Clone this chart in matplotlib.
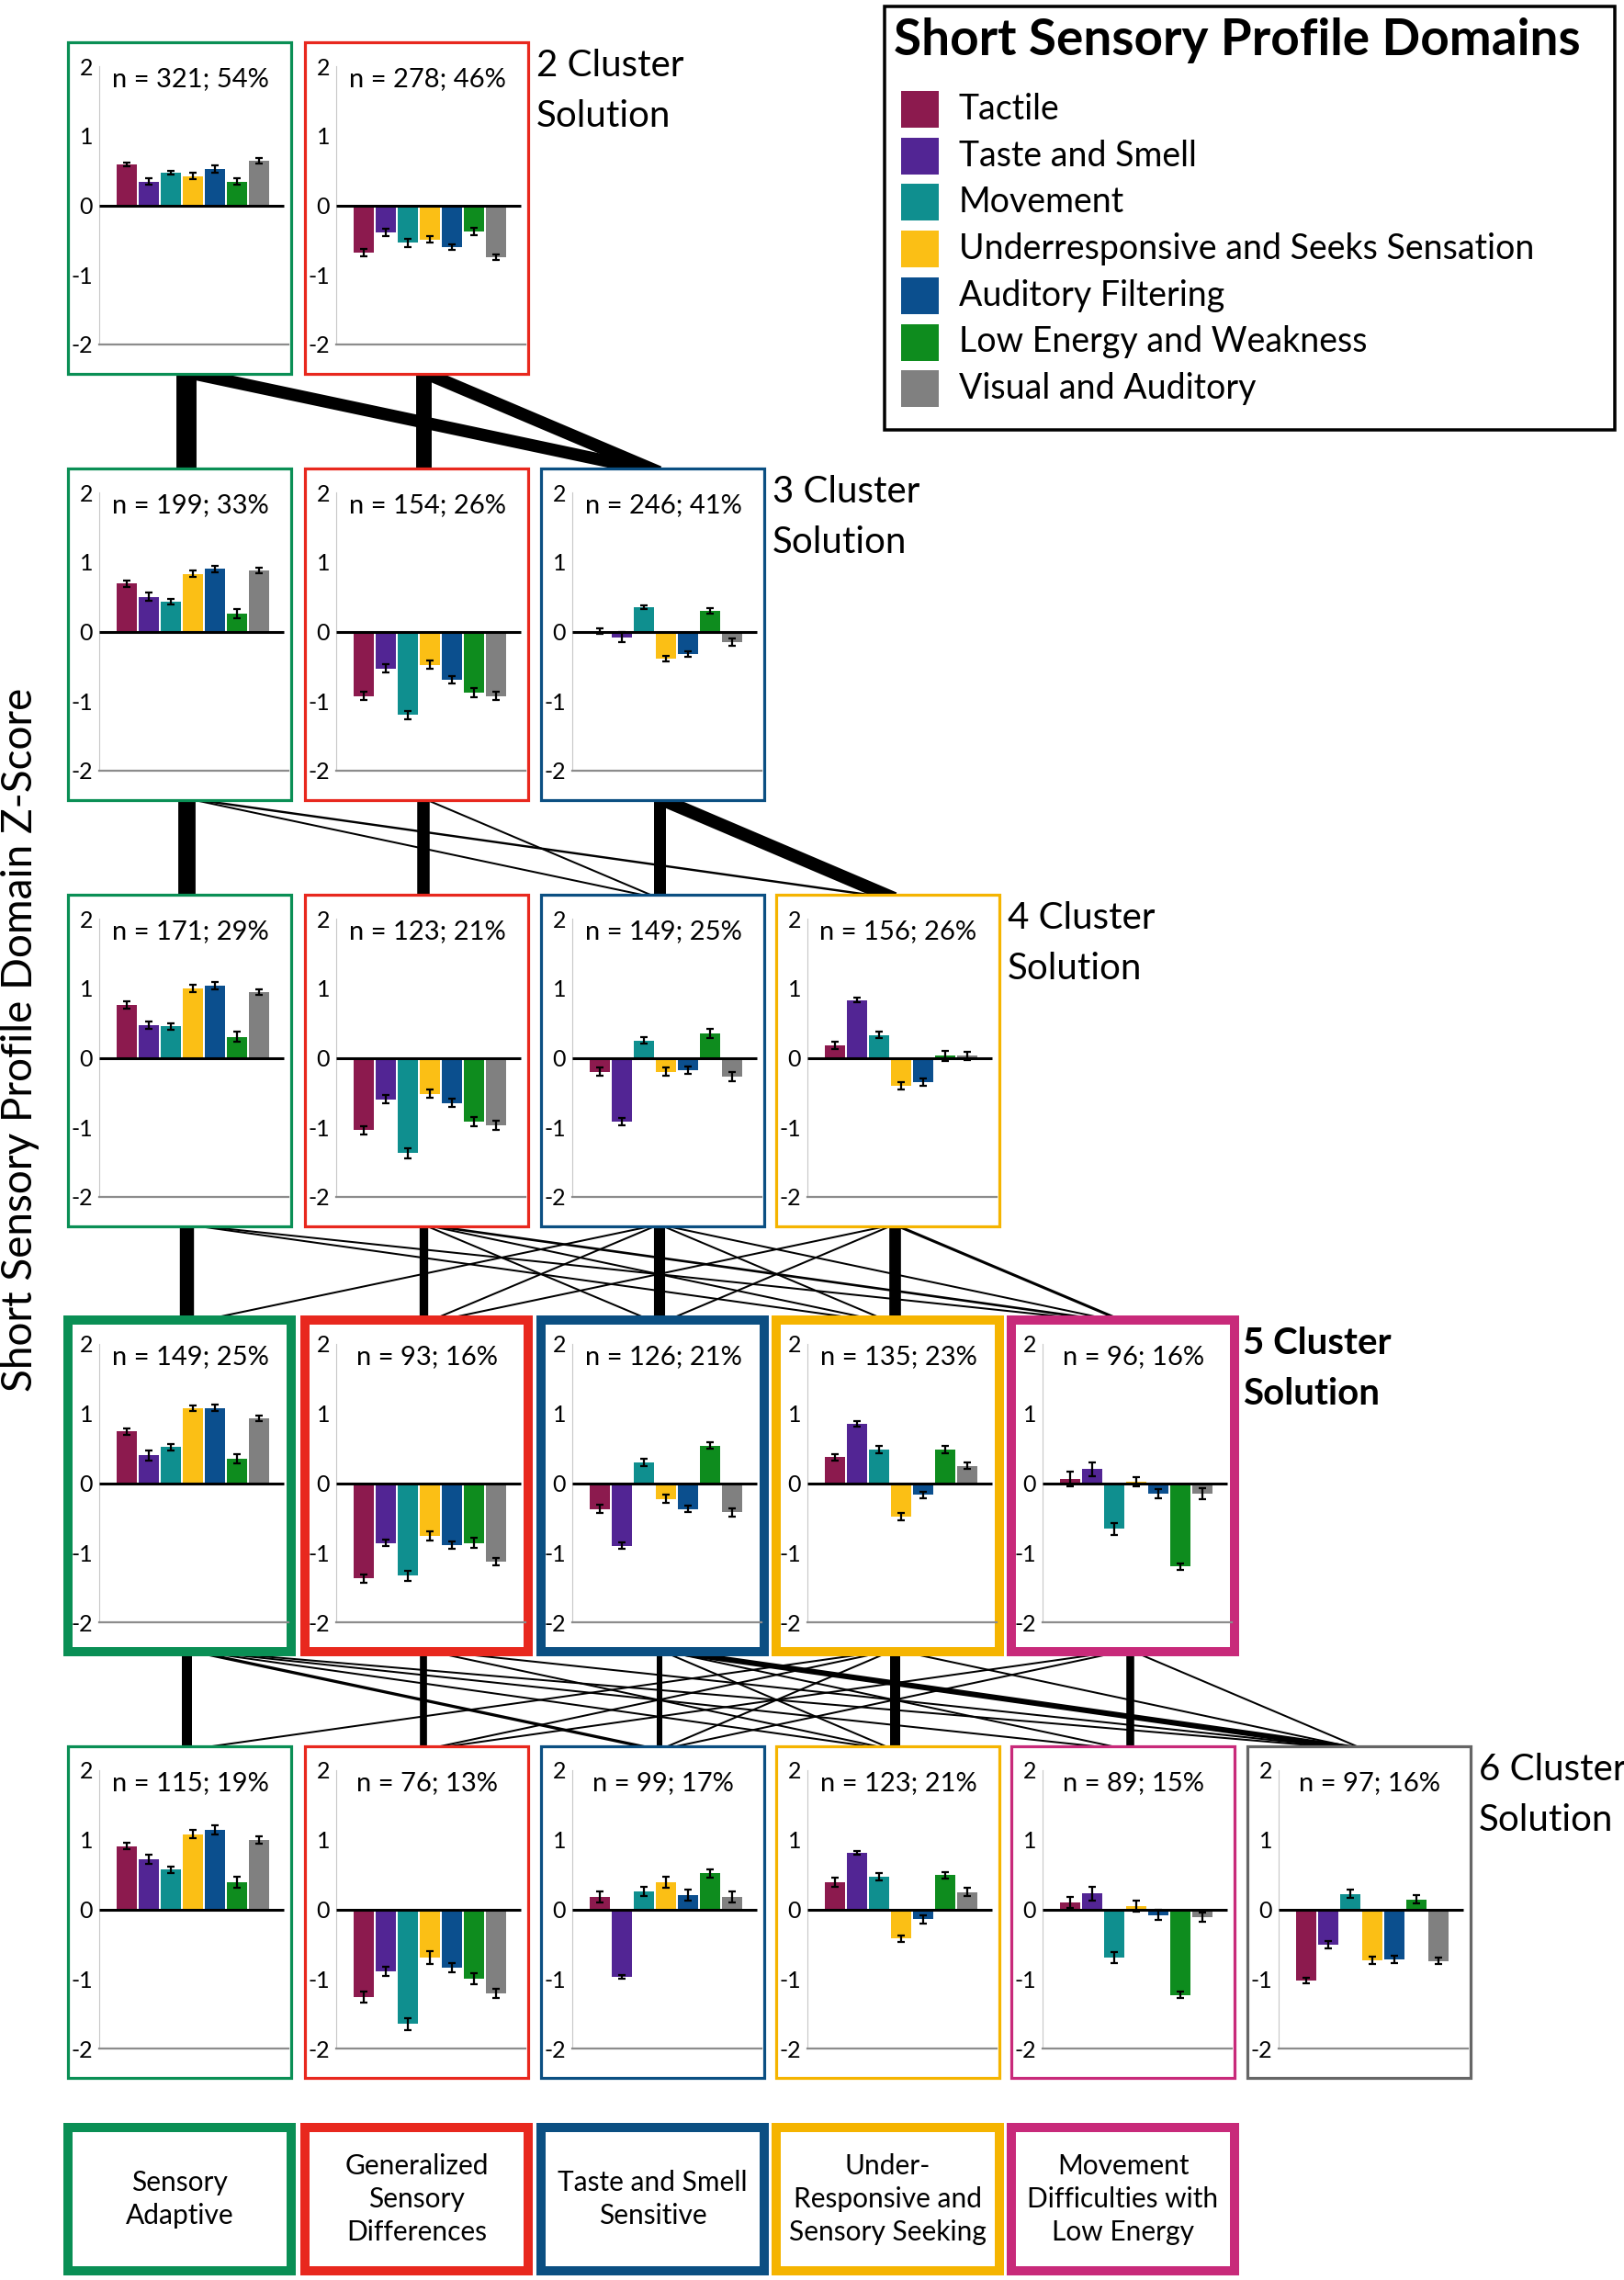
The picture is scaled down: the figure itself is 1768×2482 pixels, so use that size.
import matplotlib
matplotlib.use('Agg')
import matplotlib.pyplot as plt
from matplotlib.patches import Rectangle

plt.rcParams['font.family'] = ['Lato', 'DejaVu Sans']

# ---------------- data ----------------
domains = ["Tactile", "Taste and Smell", "Movement", "Underresponsive and Seeks Sensation",
           "Auditory Filtering", "Low Energy and Weakness", "Visual and Auditory"]
domain_colors = ["#8C1A4E", "#522594", "#0F8F8F", "#FBBF15", "#0B4F8E", "#0E8C1E", "#808080"]

frame_colors = ["#0A8F55", "#E8281E", "#0B4F82", "#F5B400", "#C82A7A", "#666666"]

# 2-cluster solution
c2_n = [321, 278]
c2_pct = [54, 46]
c2_means = [[0.59, 0.34, 0.47, 0.42, 0.52, 0.34, 0.64],
            [-0.68, -0.39, -0.54, -0.49, -0.60, -0.38, -0.75]]
c2_err = [[0.03, 0.045, 0.03, 0.05, 0.05, 0.045, 0.045],
          [0.05, 0.05, 0.06, 0.05, 0.04, 0.05, 0.04]]

# 3-cluster solution
c3_n = [199, 154, 246]
c3_pct = [33, 26, 41]
c3_means = [[0.69, 0.50, 0.43, 0.83, 0.90, 0.26, 0.88],
            [-0.93, -0.53, -1.20, -0.48, -0.69, -0.88, -0.93],
            [0.01, -0.08, 0.35, -0.39, -0.32, 0.30, -0.15]]
c3_err = [[0.045, 0.055, 0.045, 0.05, 0.045, 0.065, 0.04],
          [0.06, 0.06, 0.06, 0.06, 0.05, 0.07, 0.06],
          [0.04, 0.07, 0.03, 0.04, 0.04, 0.04, 0.05]]

# 4-cluster solution
c4_n = [171, 123, 149, 156]
c4_pct = [29, 21, 25, 26]
c4_means = [[0.76, 0.47, 0.45, 1.00, 1.04, 0.30, 0.95],
            [-1.04, -0.60, -1.37, -0.52, -0.65, -0.92, -0.97],
            [-0.20, -0.92, 0.25, -0.20, -0.18, 0.35, -0.27],
            [0.18, 0.83, 0.33, -0.40, -0.35, 0.03, 0.03]]
c4_err = [[0.05, 0.05, 0.05, 0.05, 0.05, 0.07, 0.04],
          [0.06, 0.06, 0.07, 0.06, 0.06, 0.07, 0.06],
          [0.06, 0.05, 0.05, 0.06, 0.05, 0.07, 0.07],
          [0.05, 0.03, 0.04, 0.05, 0.05, 0.07, 0.06]]

# 5-cluster solution
c5_n = [149, 93, 126, 135, 96]
c5_pct = [25, 16, 21, 23, 16]
c5_means = [[0.74, 0.40, 0.52, 1.07, 1.08, 0.35, 0.93],
            [-1.37, -0.86, -1.33, -0.76, -0.89, -0.86, -1.13],
            [-0.37, -0.90, 0.30, -0.23, -0.37, 0.54, -0.42],
            [0.37, 0.85, 0.48, -0.48, -0.17, 0.48, 0.25],
            [0.06, 0.20, -0.66, 0.02, -0.15, -1.20, -0.15]]
c5_err = [[0.05, 0.07, 0.045, 0.04, 0.05, 0.07, 0.04],
          [0.06, 0.05, 0.07, 0.07, 0.05, 0.07, 0.05],
          [0.06, 0.05, 0.05, 0.06, 0.05, 0.05, 0.06],
          [0.05, 0.04, 0.05, 0.05, 0.05, 0.05, 0.05],
          [0.10, 0.10, 0.08, 0.07, 0.07, 0.05, 0.08]]

# 6-cluster solution
c6_n = [115, 76, 99, 123, 89, 97]
c6_pct = [19, 13, 17, 21, 15, 16]
c6_means = [[0.91, 0.72, 0.57, 1.08, 1.14, 0.39, 1.00],
            [-1.26, -0.89, -1.65, -0.69, -0.84, -1.00, -1.21],
            [0.18, -0.97, 0.26, 0.39, 0.20, 0.52, 0.18],
            [0.39, 0.81, 0.47, -0.42, -0.14, 0.49, 0.25],
            [0.10, 0.23, -0.69, 0.05, -0.08, -1.23, -0.11],
            [-1.02, -0.51, 0.22, -0.73, -0.72, 0.14, -0.74]]
c6_err = [[0.05, 0.06, 0.05, 0.06, 0.07, 0.08, 0.05],
          [0.08, 0.07, 0.08, 0.09, 0.07, 0.08, 0.07],
          [0.08, 0.03, 0.07, 0.08, 0.08, 0.06, 0.08],
          [0.07, 0.03, 0.05, 0.05, 0.06, 0.05, 0.06],
          [0.08, 0.10, 0.08, 0.08, 0.07, 0.05, 0.07],
          [0.04, 0.05, 0.06, 0.05, 0.05, 0.06, 0.05]]

# transitions between successive solutions: (from cluster, to cluster, approx. n)
flow_2_3 = [(0, 0, 199), (0, 2, 122), (1, 1, 154), (1, 2, 124)]
flow_3_4 = [(0, 0, 171), (0, 2, 8), (0, 3, 22), (1, 1, 123), (1, 2, 12),
            (2, 2, 118), (2, 3, 128)]
flow_4_5 = [(0, 0, 140), (0, 3, 8), (0, 4, 16), (1, 1, 85), (1, 2, 8), (1, 3, 6),
            (1, 4, 24), (2, 0, 6), (2, 1, 5), (2, 2, 110), (2, 3, 10), (2, 4, 18),
            (3, 1, 5), (3, 2, 8), (3, 3, 115), (3, 4, 28)]
flow_5_6 = [(0, 0, 100), (0, 2, 30), (0, 3, 6), (0, 4, 5), (0, 5, 10),
            (1, 1, 70), (1, 3, 5), (1, 5, 14),
            (2, 2, 55), (2, 3, 8), (2, 4, 6), (2, 5, 55),
            (3, 0, 8), (3, 1, 4), (3, 2, 8), (3, 3, 100), (3, 5, 12),
            (4, 1, 4), (4, 2, 6), (4, 4, 78), (4, 5, 6)]

solution_titles = ["2 Cluster", "3 Cluster", "4 Cluster", "5 Cluster", "6 Cluster"]
profile_names = ["Sensory\nAdaptive", "Generalized\nSensory\nDifferences",
                 "Taste and Smell\nSensitive", "Under-\nResponsive and\nSensory Seeking",
                 "Movement\nDifficulties with\nLow Energy"]
legend_title = "Short Sensory Profile Domains"
y_label = "Short Sensory Profile Domain Z-Score"

# ---------------- layout (pixels) ----------------
W, H = 1768, 2482
DPI = 100
fig = plt.figure(figsize=(W / DPI, H / DPI), dpi=DPI)
bg = fig.add_axes([0, 0, 1, 1])
bg.set_xlim(0, W)
bg.set_ylim(H, 0)
bg.axis('off')

col_left = [74, 332, 589, 845, 1101, 1358]
PW, PH = 243, 361
row_top = [46, 510, 974, 1437, 1901]

rows = [(c2_n, c2_pct, c2_means, c2_err),
        (c3_n, c3_pct, c3_means, c3_err),
        (c4_n, c4_pct, c4_means, c4_err),
        (c5_n, c5_pct, c5_means, c5_err),
        (c6_n, c6_pct, c6_means, c6_err)]
flows = [flow_2_3, flow_3_4, flow_4_5, flow_5_6]
pxpt = DPI / 72.0

# connection lines
for r, fl in enumerate(flows):
    for a, b, cnt in fl:
        x1 = col_left[a] + PW / 2 + 7
        y1 = row_top[r] + PH - 2
        x2 = col_left[b] + PW / 2 + 7
        y2 = row_top[r + 1] + 4
        bg.plot([x1, x2], [y1, y2], color='black', lw=max(cnt * 0.11, 2.0) / pxpt,
                solid_capstyle='butt', zorder=1)

# panels
for r, (ns, pcts, means, errs) in enumerate(rows):
    T = row_top[r]
    thick = (r == 3)
    for c in range(len(ns)):
        L = col_left[c]
        bg.add_patch(Rectangle((L, T), PW, PH, facecolor='white',
                               edgecolor=frame_colors[c],
                               lw=(10 if thick else 3.2) / pxpt, zorder=2))
        ax = fig.add_axes([(L + 34) / W, 1 - (T + 329) / H, 206 / W, 303 / H])
        ax.set_facecolor('none')
        ax.set_xlim(-1.25, 7.33)
        ax.set_ylim(-2, 2)
        xs = list(range(7))
        ax.bar(xs, means[c], width=0.92, color=domain_colors, zorder=2)
        ax.errorbar(xs, means[c], yerr=errs[c], fmt='none', ecolor='black',
                    elinewidth=1.6, capsize=3.2, capthick=1.6, zorder=3)
        ax.plot([-1.25, 7.12], [0, 0], color='black', lw=2.2, zorder=4,
                solid_capstyle='butt')
        for s in ['top', 'right']:
            ax.spines[s].set_visible(False)
        ax.spines['bottom'].set_position(('data', -2))
        ax.spines['bottom'].set_color('#8C8C8C')
        ax.spines['bottom'].set_linewidth(1.6)
        ax.spines['left'].set_color('#C8C8C8')
        ax.spines['left'].set_linewidth(0.8)
        ax.set_xticks([])
        ax.set_yticks([2, 1, 0, -1, -2])
        ax.set_yticklabels(['2', '1', '0', '-1', '-2'], fontsize=18)
        ax.tick_params(axis='y', length=0, pad=5)
        ax.text(2.875, 1.82, f"n = {ns[c]}; {pcts[c]}%", ha='center', va='center',
                fontsize=21)
    # solution title
    xr = col_left[len(ns) - 1] + PW + 9
    w = 'bold' if r == 3 else 'normal'
    bg.text(xr, T + 37, solution_titles[r], fontsize=29, ha='left', va='baseline',
            fontweight=w, zorder=5)
    bg.text(xr, T + 92, "Solution", fontsize=29, ha='left', va='baseline',
            fontweight=w, zorder=5)

# bottom profile boxes
for c, name in enumerate(profile_names):
    L = col_left[c]
    bg.add_patch(Rectangle((L, 2316), PW, 156, facecolor='white',
                           edgecolor=frame_colors[c], lw=10 / pxpt, zorder=2))
    bg.text(L + PW / 2, 2394, name, ha='center', va='center', fontsize=21.5,
            linespacing=1.35, zorder=5)

# legend
bg.add_patch(Rectangle((963, 7), 795, 461, facecolor='white', edgecolor='black',
                       lw=3.5 / pxpt, zorder=2))
bg.text(973, 44, legend_title, fontsize=39.5, fontweight='bold', ha='left',
        va='center', zorder=5)
for i, (d, col) in enumerate(zip(domains, domain_colors)):
    yc = 119 + i * 50.7
    bg.add_patch(Rectangle((981, yc - 20), 41, 40, facecolor=col, edgecolor='none',
                           zorder=5))
    bg.text(1044, yc, d, fontsize=27, ha='left', va='center', zorder=5)

# y label
bg.text(22, 1132, y_label, rotation=90, ha='center', va='center', fontsize=33,
        zorder=5)

fig.savefig('out.png', dpi=DPI)
